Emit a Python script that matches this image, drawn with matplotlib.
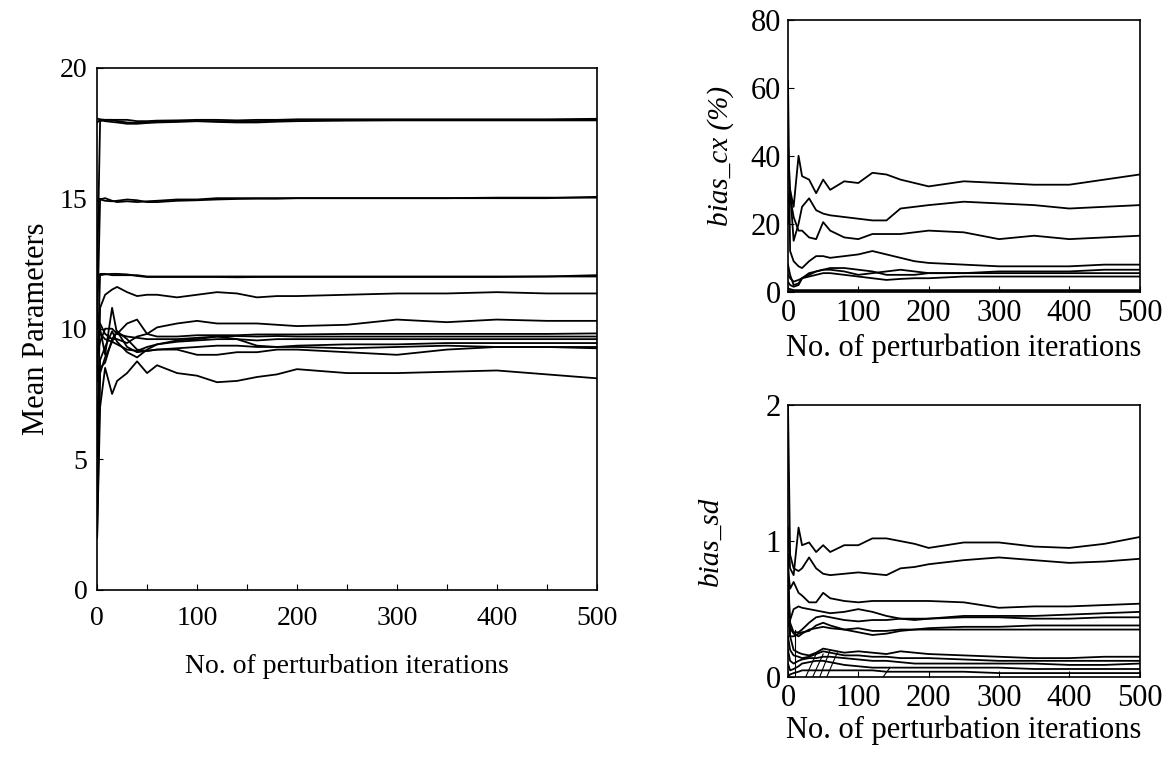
import matplotlib
matplotlib.use("Agg")
from matplotlib import pyplot as plt

# iteration grid shared by every curve
iters = [0, 3, 8, 15, 20, 30, 40, 50, 60, 80, 100, 120, 140, 160, 180, 200, 250, 300, 350, 400, 450, 500]

# left panel: mean parameters
mean_params = [
    [12, 17.95, 18.0, 18.0, 17.95, 17.9, 17.88, 17.9, 17.93, 17.95, 17.95, 17.95, 17.92, 17.95, 17.97, 18.0, 18.0, 18.0, 18.0, 18.0, 18.0, 18.0],
    [17.9, 18.0, 17.95, 17.92, 17.9, 17.85, 17.85, 17.88, 17.9, 17.92, 17.95, 17.92, 17.9, 17.9, 17.93, 17.95, 17.97, 17.98, 17.98, 17.98, 17.98, 17.98],
    [18.05, 18.02, 18.0, 18.0, 18.0, 18.0, 17.95, 17.95, 17.97, 17.98, 18.0, 18.0, 17.98, 18.0, 18.0, 18.02, 18.02, 18.02, 18.02, 18.02, 18.02, 18.04],
    [10, 14.95, 15.0, 14.9, 14.85, 14.88, 14.85, 14.88, 14.9, 14.95, 14.95, 15.0, 15.0, 15.0, 15.0, 15.0, 15.0, 15.0, 15.0, 15.0, 15.0, 15.05],
    [14.9, 14.95, 14.9, 14.88, 14.9, 14.95, 14.92, 14.85, 14.85, 14.9, 14.92, 14.95, 14.97, 14.98, 14.98, 15.0, 15.0, 15.0, 15.0, 15.02, 15.02, 15.02],
    [8, 12.1, 12.1, 12.05, 12.05, 12.05, 12.05, 12.0, 12.0, 12.0, 12.0, 12.0, 12.0, 12.0, 12.0, 12.0, 12.0, 12.0, 12.0, 12.0, 12.0, 12.05],
    [12.1, 12.05, 12.08, 12.1, 12.1, 12.08, 12.02, 11.98, 11.98, 11.98, 11.98, 11.98, 11.97, 11.98, 11.98, 11.98, 11.98, 11.98, 11.98, 11.98, 12.0, 12.0],
    [5, 10.8, 11.3, 11.5, 11.6, 11.4, 11.25, 11.3, 11.3, 11.2, 11.3, 11.4, 11.35, 11.2, 11.25, 11.25, 11.3, 11.35, 11.35, 11.4, 11.35, 11.35],
    [10, 10.2, 9.8, 9.6, 9.6, 9.45, 9.7, 9.8, 10.05, 10.2, 10.3, 10.2, 10.2, 10.2, 10.15, 10.1, 10.15, 10.35, 10.25, 10.35, 10.3, 10.3],
    [9, 9.5, 10.0, 10.0, 9.8, 10.2, 10.35, 9.8, 9.7, 9.7, 9.75, 9.75, 9.75, 9.78, 9.78, 9.78, 9.8, 9.8, 9.8, 9.8, 9.8, 9.82],
    [10.4, 10.0, 9.0, 10.8, 9.8, 9.7, 9.65, 9.6, 9.6, 9.6, 9.65, 9.7, 9.72, 9.7, 9.72, 9.7, 9.7, 9.7, 9.7, 9.7, 9.7, 9.7],
    [3, 8.8, 9.3, 9.9, 9.5, 9.1, 8.9, 9.2, 9.4, 9.5, 9.55, 9.6, 9.6, 9.55, 9.6, 9.6, 9.6, 9.6, 9.6, 9.6, 9.6, 9.6],
    [6, 8.5, 8.7, 9.6, 9.9, 9.3, 9.1, 9.15, 9.2, 9.25, 9.3, 9.35, 9.35, 9.3, 9.3, 9.35, 9.4, 9.4, 9.45, 9.45, 9.45, 9.45],
    [2, 8.3, 8.9, 9.5, 9.9, 9.6, 9.2, 9.15, 9.2, 9.2, 9.0, 9.0, 9.1, 9.1, 9.2, 9.2, 9.1, 9.0, 9.2, 9.3, 9.3, 9.3],
    [10.2, 9.8, 9.6, 9.5, 9.4, 9.2, 9.15, 9.3, 9.4, 9.55, 9.6, 9.7, 9.6, 9.35, 9.3, 9.3, 9.25, 9.3, 9.35, 9.3, 9.3, 9.25],
    [2, 7.0, 8.5, 7.5, 8.0, 8.3, 8.75, 8.3, 8.6, 8.3, 8.2, 7.95, 8.0, 8.15, 8.25, 8.45, 8.3, 8.3, 8.35, 8.4, 8.25, 8.1],
]

# right top: bias_cx (%)
bias_cx = [
    [43, 30, 25, 40, 34, 33, 29, 33, 30, 32.5, 32, 35, 34.5, 33, 32, 31, 32.5, 32, 31.5, 31.5, 33, 34.5],
    [26, 30, 15, 20, 25, 27.5, 24, 23, 22.5, 22, 21.5, 21, 21, 24.5, 25, 25.5, 26.5, 26, 25.5, 24.5, 25, 25.5],
    [20, 28, 22, 18, 18, 16, 15.5, 20.5, 18, 16, 15.5, 17, 17, 17, 17.5, 18, 17.5, 15.5, 16.5, 15.5, 16, 16.5],
    [62, 12, 9, 7.5, 7, 9, 10.5, 10.5, 10, 10.5, 11, 12, 11, 10, 9, 8.5, 8, 7.5, 7.5, 7.5, 8, 8],
    [5, 4, 3, 3.5, 4, 5.5, 6, 6.5, 6.5, 6, 5, 5.5, 6, 6.5, 6, 5.5, 5.5, 6, 6, 6, 6.5, 6.5],
    [8, 5, 2, 2.5, 4, 5, 6, 6.5, 7, 7, 6.5, 6, 5, 5, 5, 5.5, 5.5, 5.5, 5.5, 5.5, 5.5, 5.5],
    [3, 2, 1.5, 2, 4, 4.5, 5, 5.5, 5.5, 5, 4.5, 4, 3.5, 3.8, 4, 4, 4.5, 4.5, 4.5, 4.5, 4.5, 4.5],
    [1, 0.8, 0.5, 0.5, 0.5, 0.5, 0.5, 0.5, 0.5, 0.5, 0.5, 0.5, 0.5, 0.5, 0.5, 0.5, 0.5, 0.5, 0.5, 0.5, 0.5, 0.5],
    [0.2, 0.2, 0.2, 0.2, 0.2, 0.2, 0.2, 0.2, 0.2, 0.2, 0.2, 0.2, 0.2, 0.2, 0.2, 0.2, 0.2, 0.2, 0.2, 0.2, 0.2, 0.2],
]

# right bottom: bias_sd
bias_sd = [
    [1.1, 0.8, 0.75, 1.1, 0.97, 0.99, 0.92, 0.97, 0.92, 0.97, 0.97, 1.02, 1.02, 1.0, 0.98, 0.95, 0.99, 0.99, 0.96, 0.95, 0.98, 1.03],
    [2.0, 0.9, 0.8, 0.78, 0.8, 0.88, 0.8, 0.76, 0.75, 0.76, 0.77, 0.76, 0.75, 0.8, 0.81, 0.83, 0.86, 0.88, 0.86, 0.84, 0.85, 0.87],
    [0.8, 0.65, 0.7, 0.62, 0.6, 0.55, 0.55, 0.62, 0.58, 0.56, 0.55, 0.56, 0.56, 0.56, 0.56, 0.56, 0.55, 0.51, 0.52, 0.52, 0.53, 0.54],
    [0.5, 0.42, 0.5, 0.52, 0.51, 0.5, 0.49, 0.48, 0.47, 0.48, 0.5, 0.48, 0.45, 0.43, 0.42, 0.43, 0.45, 0.45, 0.45, 0.46, 0.47, 0.48],
    [0.7, 0.4, 0.33, 0.33, 0.35, 0.4, 0.44, 0.45, 0.44, 0.42, 0.41, 0.42, 0.42, 0.43, 0.43, 0.43, 0.44, 0.44, 0.43, 0.43, 0.44, 0.44],
    [0.4, 0.36, 0.32, 0.3, 0.32, 0.35, 0.36, 0.37, 0.36, 0.35, 0.36, 0.34, 0.34, 0.35, 0.35, 0.36, 0.37, 0.37, 0.38, 0.38, 0.38, 0.38],
    [0.9, 0.3, 0.3, 0.32, 0.33, 0.34, 0.38, 0.4, 0.38, 0.35, 0.33, 0.31, 0.32, 0.34, 0.35, 0.35, 0.35, 0.35, 0.35, 0.35, 0.35, 0.35],
    [0.6, 0.3, 0.2, 0.18, 0.17, 0.16, 0.18, 0.21, 0.2, 0.18, 0.19, 0.18, 0.17, 0.19, 0.18, 0.17, 0.16, 0.15, 0.14, 0.14, 0.15, 0.15],
    [0.3, 0.2, 0.16, 0.15, 0.14, 0.15, 0.17, 0.19, 0.18, 0.16, 0.16, 0.15, 0.15, 0.14, 0.14, 0.14, 0.13, 0.12, 0.12, 0.12, 0.12, 0.12],
    [0.2, 0.12, 0.1, 0.12, 0.13, 0.14, 0.14, 0.15, 0.15, 0.14, 0.13, 0.12, 0.12, 0.11, 0.1, 0.1, 0.1, 0.1, 0.1, 0.09, 0.09, 0.1],
    [0.1, 0.05, 0.06, 0.08, 0.1, 0.11, 0.12, 0.12, 0.11, 0.09, 0.08, 0.07, 0.07, 0.07, 0.07, 0.07, 0.07, 0.07, 0.06, 0.06, 0.06, 0.06],
    [0.0, 0.02, 0.03, 0.04, 0.05, 0.05, 0.05, 0.05, 0.05, 0.05, 0.05, 0.05, 0.04, 0.04, 0.04, 0.04, 0.04, 0.03, 0.03, 0.03, 0.03, 0.03],
]

# stray slanted strokes near the bottom of the bias_sd panel
stroke_x0 = [10, 25, 35, 45, 55, 135]
stroke_x1 = [10, 40, 50, 60, 70, 145]
stroke_y1 = [0.35, 0.17, 0.17, 0.2, 0.18, 0.07]

xticks = [0, 100, 200, 300, 400, 500]
xlabel = "No. of perturbation iterations"


def main():
    plt.rcParams["font.family"] = ["Liberation Serif", "DejaVu Serif"]
    fig = plt.figure(figsize=(11.7, 7.6), dpi=100)

    ax1 = fig.add_axes([0.083, 0.224, 0.427, 0.687])
    ax2 = fig.add_axes([0.6735, 0.616, 0.3005, 0.358])
    ax3 = fig.add_axes([0.6735, 0.109, 0.3005, 0.358])

    for s in mean_params:
        ax1.plot(iters, s, c="black", linewidth=1.3)
    for s in bias_cx:
        ax2.plot(iters, s, c="black", linewidth=1.3)
    for s in bias_sd:
        ax3.plot(iters, s, c="black", linewidth=1.3)
    for a, b, h in zip(stroke_x0, stroke_x1, stroke_y1):
        ax3.plot([a, b], [0, h], c="black", linewidth=0.8)

    ax1.set_ylim(0, 20)
    ax1.set_yticks([0, 5, 10, 15, 20])
    ax1.set_xticks(range(0, 501, 50), minor=True)
    ax1.set_ylabel("Mean Parameters", fontsize=22, labelpad=6)
    ax1.set_xlabel(xlabel, fontsize=20, labelpad=16)

    ax2.set_ylim(0, 80)
    ax2.set_yticks([0, 20, 40, 60, 80])
    ax2.set_ylabel("bias_cx (%)", fontsize=21, style="italic", labelpad=12)
    ax2.set_xlabel(xlabel, fontsize=22, labelpad=4)

    ax3.set_ylim(0, 2)
    ax3.set_yticks([0, 1, 2])
    ax3.set_ylabel("bias_sd", fontsize=21, style="italic", labelpad=30)
    ax3.set_xlabel(xlabel, fontsize=22, labelpad=2)

    for ax in (ax1, ax2, ax3):
        ax.set_xlim(0, 500)
        ax.set_xticks(xticks)
        ax.tick_params(direction="in", length=4, width=0.8, which="both")
        for sp in ax.spines.values():
            sp.set_linewidth(1.2)
    ax1.tick_params(axis="x", labelsize=20, pad=12)
    ax1.tick_params(axis="y", labelsize=20, pad=7)
    ax2.tick_params(axis="both", labelsize=22, pad=5)
    ax3.tick_params(axis="both", labelsize=22, pad=5)

    fig.savefig("out.png", dpi=100, facecolor="white")


if __name__ == "__main__":
    main()
